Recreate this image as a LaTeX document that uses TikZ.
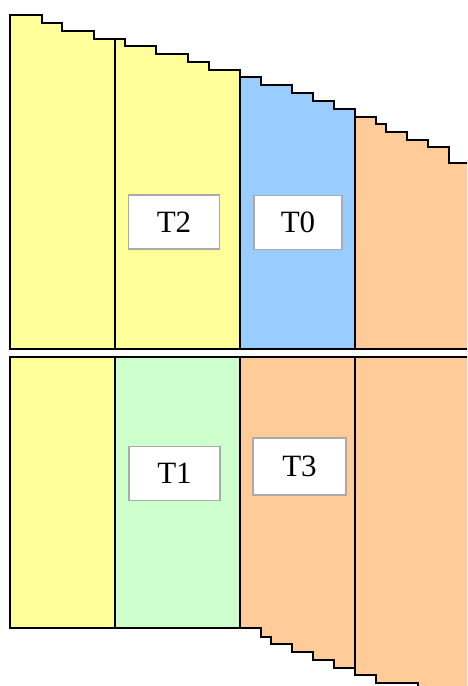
\documentclass[tikz,border=0pt]{standalone}
\usepackage{fontspec}
\setmainfont{Liberation Serif}
\definecolor{cyellow}{RGB}{255,255,153}
\definecolor{cblue}{RGB}{153,204,255}
\definecolor{corange}{RGB}{255,204,153}
\definecolor{cgreen}{RGB}{204,255,204}
\definecolor{boxgray}{RGB}{170,170,170}
\tikzset{
  region/.style={draw=black, line width=2.4pt, line join=miter},
  labelbox/.style={draw=boxgray, fill=white, line width=1.6pt, minimum width=91pt, minimum height=54pt, inner sep=0pt, font=\fontsize{31}{36}\selectfont},
}
\begin{document}
\begin{tikzpicture}[x=1pt,y=-1pt]
\useasboundingbox (0,0) rectangle (467,686);
\clip (0,0) rectangle (467,686);
% top section
\filldraw[region, fill=cyellow] (10,349) -- (10,15) -- (42,15) -- (42,23) -- (62,23) -- (62,31) -- (94,31) -- (94,39) -- (115,39) -- (115,349) -- cycle;
\filldraw[region, fill=cyellow] (115,349) -- (115,39) -- (125,39) -- (125,46) -- (156,46) -- (156,54) -- (188,54) -- (188,62) -- (209,62) -- (209,70) -- (240,70) -- (240,349) -- cycle;
\filldraw[region, fill=cblue] (240,349) -- (240,77) -- (261,77) -- (261,85) -- (292,85) -- (292,93) -- (313,93) -- (313,101) -- (334,101) -- (334,109) -- (355,109) -- (355,349) -- cycle;
\filldraw[region, fill=corange] (355,349) -- (355,117) -- (376,117) -- (376,124) -- (386,124) -- (386,132) -- (407,132) -- (407,140) -- (428,140) -- (428,147) -- (449,147) -- (449,163) -- (480,163) -- (480,349) -- cycle;
% bottom section
\filldraw[region, fill=cyellow] (10,357) rectangle (115,628);
\filldraw[region, fill=cgreen] (115,357) rectangle (240,628);
\filldraw[region, fill=corange] (240,357) -- (240,628) -- (261,628) -- (261,637) -- (271,637) -- (271,644) -- (292,644) -- (292,652) -- (313,652) -- (313,660) -- (334,660) -- (334,668) -- (355,668) -- (355,357) -- cycle;
\filldraw[region, fill=corange] (355,357) -- (355,675) -- (376,675) -- (376,683) -- (418,683) -- (418,700) -- (480,700) -- (480,357) -- cycle;
% labels
\node[labelbox] (t2) at (174,222) {T2};
\node[labelbox, minimum width=88pt] (t0) at (298,222.5) {T0};
\node[labelbox] (t1) at (174.5,473.5) {T1};
\node[labelbox, minimum width=93pt, minimum height=57pt] (t3) at (299.5,466.5) {T3};
\end{tikzpicture}
\end{document}
